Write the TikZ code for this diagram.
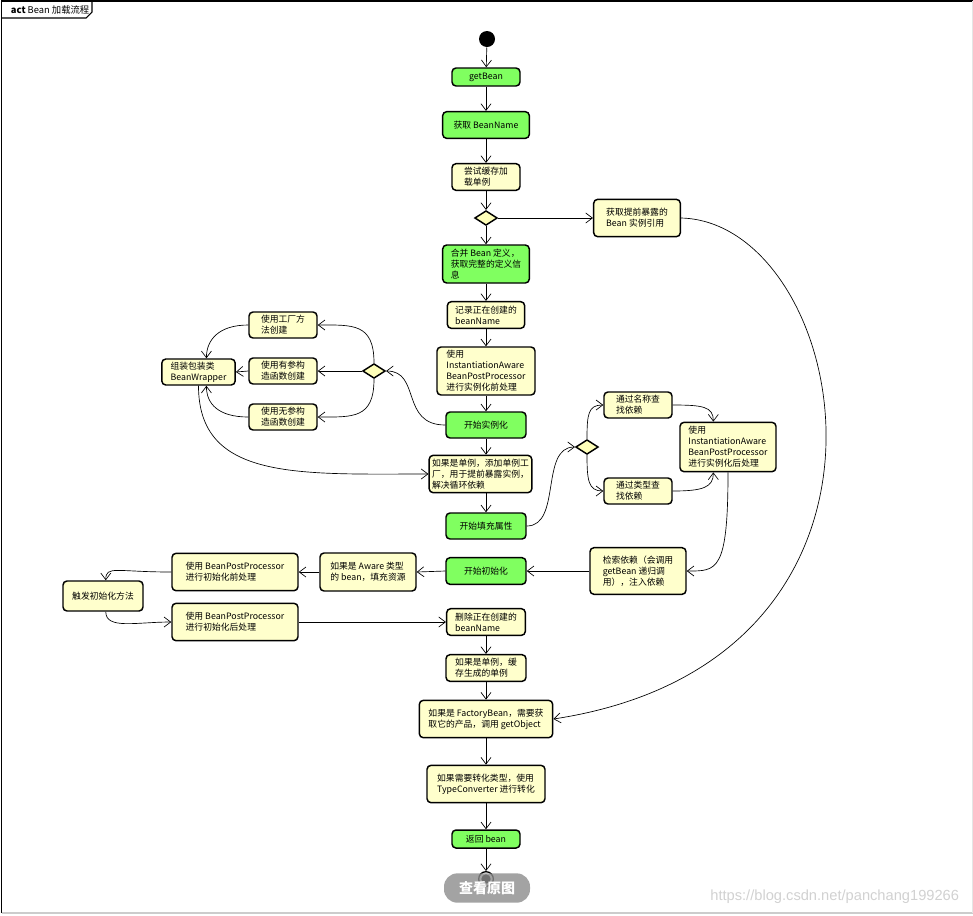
\documentclass[tikz,border=0pt]{standalone}
\usepackage{fontspec}
\setmainfont{Noto Sans CJK SC}
\newfontfamily\wmfont{Liberation Sans}
\usetikzlibrary{shapes.geometric,arrows.meta}

\definecolor{beangreen}{RGB}{128,255,96}
\definecolor{beanyellow}{RGB}{255,255,204}
\definecolor{choicefill}{RGB}{255,255,185}

\tikzset{every picture/.style={line width=0.75pt}}
\tikzset{
	action/.style={draw, rounded corners=3pt, line width=1.1pt, inner sep=1pt, font=\fontsize{6.6}{8.3}\selectfont},
	greenact/.style={action, fill=beangreen, align=center},
	yellowact/.style={action, fill=beanyellow, align=left},
	choice/.style={diamond, draw, fill=choicefill, line width=1.1pt, aspect=1.5, minimum width=17pt, minimum height=11pt, inner sep=0pt},
	flow/.style={-{Straight Barb[length=5pt,width=7.5pt]}, line width=0.5pt},
	wh/.style 2 args={minimum width=#1pt, minimum height=#2pt}
}

\begin{document}
\begin{tikzpicture}[x=0.75pt,y=0.75pt,yscale=-1]
	\path [use as bounding box] (0,0) rectangle (973,915);
	
	%Frame
	\draw [line width=1.2pt] (1.5,913) -- (1.5,1) -- (973,1) ;
	\draw [black!20, line width=1pt] (1.5,913) -- (973,913) ;
	\draw [black!10] (972,1) -- (972,913) ;
	\draw [line width=0.8pt] (1.5,18) -- (86,18) -- (92,12) -- (92,1) ;
	% Text Node
	\node [anchor=west, font=\fontsize{7}{8}\selectfont] (title) at (6,9.5) {\textbf{act} Bean 加载流程};
	
	%Flowchart: Connector
	\node [circle, fill=black, minimum size=12pt, inner sep=0pt] (start) at (487,39) {};
	
	%Flowchart: Process (main column)
	\node [greenact, wh={51}{13.5}] (getbean) at (486,77) {getBean};
	\node [greenact, wh={65}{20}] (bname) at (486,125) {获取 BeanName};
	\node [yellowact, wh={51}{20}] (trycache) at (486,177) {尝试缓存加\\载单例};
	\node [choice] (choice1) at (486,218) {};
	\node [yellowact, wh={65}{28}] (early) at (637,218) {获取提前暴露的\\Bean 实例引用};
	\node [greenact, align=left, wh={65}{28.5}] (merge) at (486,264) {合并 Bean 定义，\\获取完整的定义信\\息};
	\node [yellowact, wh={58}{20}] (record) at (486,315) {记录正在创建的\\beanName};
	\node [yellowact, wh={73.5}{36}] (prebpp) at (486,371) {使用\\InstantiationAware\\BeanPostProcessor\\进行实例化前处理};
	\node [greenact, wh={60}{19.5}] (inst) at (486,425) {开始实例化};
	\node [yellowact, wh={77}{28}] (singleton) at (480.5,474) {如果是单例，添加单例工\\厂，用于提前暴露实例，\\解决循环依赖};
	\node [greenact, wh={60}{19.5}] (fill) at (486,526) {开始填充属性};
	\node [greenact, wh={60}{20}] (initnode) at (486,571) {开始初始化};
	\node [yellowact, wh={59}{20}] (delete) at (486,622) {删除正在创建的\\beanName};
	\node [yellowact, wh={60}{20}] (cache) at (486,668) {如果是单例，缓\\存生成的单例};
	\node [yellowact, wh={100}{28}] (factoryb) at (486,719) {如果是 FactoryBean，需要获\\取它的产品，调用 getObject};
	\node [yellowact, wh={88.5}{28}] (convert) at (486,784) {如果需要转化类型，使用\\TypeConverter 进行转化};
	\node [greenact, wh={51}{13.5}] (ret) at (486,839) {返回 bean};
	
	%Flowchart: Process (instantiation branch)
	\node [choice] (choice2) at (374,371) {};
	\node [yellowact, wh={51}{19.5}] (factory) at (283,325) {使用工厂方\\法创建};
	\node [yellowact, wh={51}{19.5}] (param) at (283,371) {使用有参构\\造函数创建};
	\node [yellowact, wh={51}{19.5}] (noparam) at (283,417) {使用无参构\\造函数创建};
	\node [yellowact, wh={55}{19.5}] (wrapper) at (198.5,372) {组装包装类\\BeanWrapper};
	
	%Flowchart: Process (populate branch)
	\node [choice] (choice3) at (587,447) {};
	\node [yellowact, wh={51}{19.5}] (byname) at (638,405) {通过名称查\\找依赖};
	\node [yellowact, wh={51}{19.5}] (bytype) at (638,491) {通过类型查\\找依赖};
	\node [yellowact, wh={72}{37}] (post) at (728,447) {使用\\InstantiationAware\\BeanPostProcessor\\进行实例化后处理};
	\node [yellowact, wh={72}{35}] (search) at (638,571) {检索依赖（会调用\\getBean 递归调\\用），注入依赖};
	
	%Flowchart: Process (initialization branch)
	\node [yellowact, wh={72}{28.5}] (aware) at (368,572) {如果是 Aware 类型\\的 bean，填充资源};
	\node [yellowact, wh={94.5}{28}] (bppbefore) at (235,572) {使用 BeanPostProcessor\\进行初始化前处理};
	\node [yellowact, wh={60}{22.5}] (trigger) at (103,596) {触发初始化方法};
	\node [yellowact, wh={94.5}{28}] (bppafter) at (235,622) {使用 BeanPostProcessor\\进行初始化后处理};
	
	%Flowchart: Connector (end)
	\node [circle, draw, line width=1pt, minimum size=11pt, inner sep=0pt] (stop) at (486,879) {};
	\fill (stop.center) circle (3.5pt) ;
	
	%Straight Lines
	\draw [flow] (start) -- (getbean) ;
	\draw [flow] (getbean) -- (bname) ;
	\draw [flow] (bname) -- (trycache) ;
	\draw [flow] (trycache) -- (choice1) ;
	\draw [flow] (choice1) -- (merge) ;
	\draw [flow] (choice1) -- (early) ;
	\draw [flow] (merge) -- (record) ;
	\draw [flow] (record) -- (prebpp) ;
	\draw [flow] (prebpp) -- (inst) ;
	\draw [flow] (inst.south) -- (inst.south |- singleton.north) ;
	\draw [flow] (fill.north |- singleton.south) -- (fill.north) ;
	\draw [flow] (choice2.west) -- (param.east) ;
	\draw [flow] (param.west) -- (wrapper.east) ;
	\draw [flow] (search.west) -- (initnode.east) ;
	\draw [flow] (initnode.west) -- (aware.east) ;
	\draw [flow] (aware.west) -- (bppbefore.east) ;
	\draw [flow] (bppafter.east) -- (delete.west) ;
	\draw [flow] (delete) -- (cache) ;
	\draw [flow] (cache) -- (factoryb) ;
	\draw [flow] (factoryb) -- (convert) ;
	\draw [flow] (convert) -- (ret) ;
	\draw [flow] (ret) -- (stop) ;
	
	%Curve Lines
	\draw [flow] (inst.west) .. controls +(-45,0) and +(35,0) .. (choice2.east) ;
	\draw [flow] (choice2.north) .. controls +(0,-40) and +(35,0) .. (factory.east) ;
	\draw [flow] (choice2.south) .. controls +(0,40) and +(35,0) .. (noparam.east) ;
	\draw [flow] (factory.west) .. controls +(-30,0) and +(0,-18) .. (wrapper.60) ;
	\draw [flow] (noparam.west) .. controls +(-30,0) and +(0,18) .. (wrapper.-60) ;
	\draw [flow] (wrapper.south) .. controls +(0,95) and +(-130,0) .. (singleton.west) ;
	\draw [flow] (fill.east) .. controls +(35,0) and +(-35,0) .. (choice3.west) ;
	\draw [flow] (choice3.north) .. controls +(0,-25) and +(-15,0) .. (byname.west) ;
	\draw [flow] (choice3.south) .. controls +(0,25) and +(-15,0) .. (bytype.west) ;
	\draw [flow] (byname.east) .. controls +(30,0) and +(0,-15) .. (post.120) ;
	\draw [flow] (bytype.east) .. controls +(30,0) and +(0,15) .. (post.240) ;
	\draw [flow] (post.south) .. controls +(0,100) and +(30,0) .. (search.east) ;
	\draw [flow] (bppbefore.west) .. controls +(-55,0) and +(0,-15) .. (trigger.80) ;
	\draw [flow] (trigger.-80) .. controls +(0,18) and +(-35,0) .. (bppafter.west) ;
	\draw [flow] (early.east) .. controls +(169,4) and +(387,-59) .. (factoryb.east) ;
	
	% Text Node (overlay)
	\node [fill=black!45, fill opacity=0.8, text opacity=1, rounded corners=10pt, wh={64.5}{22}, text=white, font=\fontsize{10.5}{12}\selectfont\bfseries] (viewbtn) at (487,888) {查看原图};
	\node [anchor=east, text=black!18, font=\wmfont\fontsize{11}{13}\selectfont] (mark) at (964,897) {https://blog.csdn.net/panchang199266};
	
\end{tikzpicture}
\end{document}
